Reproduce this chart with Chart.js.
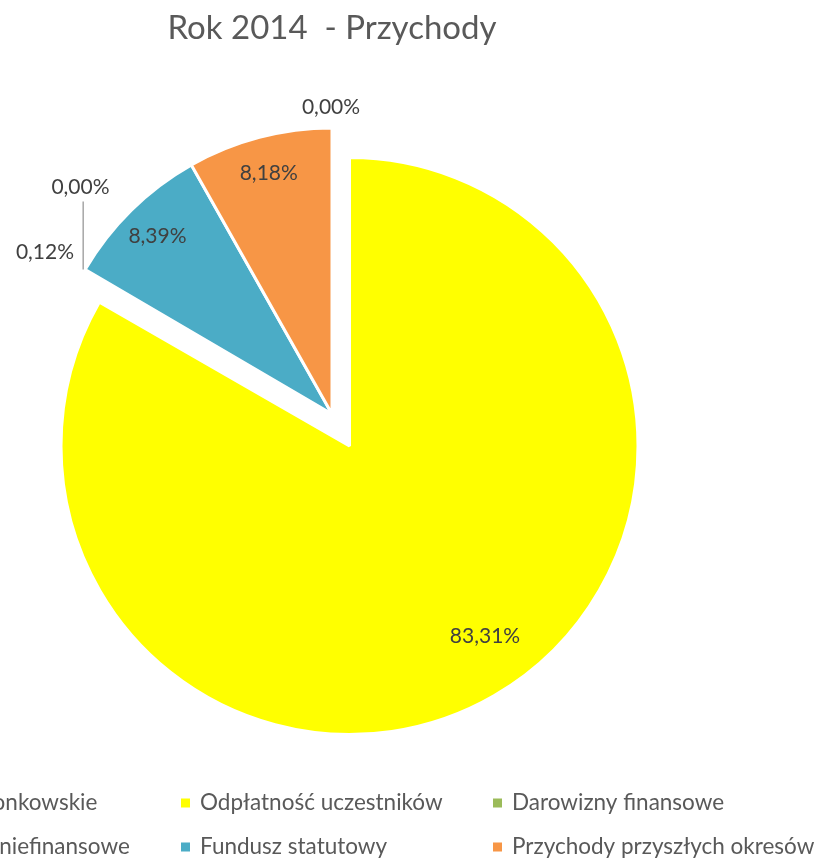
<!DOCTYPE html>
<html>
<head>
<meta charset="utf-8">
<script src="https://cdn.jsdelivr.net/npm/chart.js@4.4.0/dist/chart.umd.min.js"></script>
<style>
  html, body { margin: 0; padding: 0; background: #ffffff; }
  #wrap { position: relative; width: 818px; height: 860px; overflow: hidden; }
  #wrap canvas { position: absolute; left: 0; top: 0; }
</style>
</head>
<body>
<div id="wrap">
  <canvas id="pieBack" width="818" height="860"></canvas>
  <canvas id="pieFront" width="818" height="860"></canvas>
</div>
<script>
// ---------- data ----------
const chartTitle = 'Rok 2014  - Przychody';
const categories = [
  'Składki członkowskie',
  'Odpłatność uczestników',
  'Darowizny finansowe',
  'Darowizny niefinansowe',
  'Fundusz statutowy',
  'Przychody przyszłych okresów'
];
const shares = [0.00, 83.31, 0.12, 0.00, 8.39, 8.18];   // % of total
const sliceColors = ['#4F81BD', '#FFFF00', '#9BBB59', '#8064A2', '#4BACC6', '#F79646'];
const explodedSlices = [1];  // slice drawn pulled away from the rest

// ---------- styles ----------
const FONT_FAMILY = 'Lato, "Open Sans", sans-serif';
const LABEL_COLOR = '#404040';
const TEXT_COLOR = '#595959';
const NONE = 'rgba(0,0,0,0)';

const fmt = v => v.toFixed(2).replace('.', ',') + '%';

function makeLabelPlugin(cfg) {
  return {
    id: 'pctLabels',
    afterDatasetsDraw(chart) {
      const ctx = chart.ctx;
      const meta = chart.getDatasetMeta(0);
      ctx.save();
      ctx.font = cfg.font;
      ctx.fillStyle = LABEL_COLOR;
      ctx.textBaseline = 'middle';
      meta.data.forEach((arc, i) => {
        if (!cfg.indices.includes(i)) return;
        const p = arc.getProps(['x', 'y', 'startAngle', 'endAngle', 'outerRadius'], true);
        const mid = (p.startAngle + p.endAngle) / 2;
        const out = cfg.outside[i];
        if (out) {
          const px = p.x + Math.cos(mid) * p.outerRadius;
          const py = p.y + Math.sin(mid) * p.outerRadius;
          if (out.leader) {
            ctx.save();
            ctx.strokeStyle = '#A6A6A6';
            ctx.lineWidth = 1.5;
            ctx.beginPath();
            ctx.moveTo(px + out.leader.dx, py + out.leader.dy1);
            ctx.lineTo(px + out.leader.dx, py + out.leader.dy2);
            ctx.stroke();
            ctx.restore();
          }
          ctx.textAlign = out.align || 'center';
          ctx.fillText(fmt(shares[i]), px + out.dx, py + out.dy);
        } else {
          const a = mid + (cfg.shiftDeg || 0) * Math.PI / 180;
          const r = p.outerRadius * cfg.k;
          ctx.textAlign = 'center';
          ctx.fillText(fmt(shares[i]), p.x + Math.cos(a) * r, p.y + Math.sin(a) * r);
        }
      });
      ctx.restore();
    }
  };
}

const legendPlugin = {
  id: 'gridLegend',
  afterDraw(chart) {
    const ctx = chart.ctx;
    const L = { x0: -131, dx: 312, y0: 803, dy: 44, box: 9, gap: 19 };
    ctx.save();
    ctx.font = '22.5px ' + FONT_FAMILY;
    ctx.textBaseline = 'middle';
    ctx.textAlign = 'left';
    categories.forEach((c, i) => {
      const x = L.x0 + (i % 3) * L.dx;
      const y = L.y0 + Math.floor(i / 3) * L.dy;
      ctx.fillStyle = sliceColors[i];
      ctx.fillRect(x, y - L.box / 2, L.box, L.box);
      ctx.fillStyle = TEXT_COLOR;
      ctx.fillText(c, x + L.gap, y);
    });
    ctx.restore();
  }
};

const common = {
  responsive: false,
  animation: false,
  events: [],
  plugins: { legend: { display: false }, tooltip: { enabled: false } }
};

// Back chart: the exploded slice
new Chart(document.getElementById('pieBack'), {
  type: 'pie',
  data: {
    labels: categories,
    datasets: [{
      data: shares,
      radius: 288.5,
      backgroundColor: sliceColors.map((c, i) => explodedSlices.includes(i) ? c : NONE),
      borderColor: '#ffffff',
      borderWidth: shares.map((v, i) => explodedSlices.includes(i) ? 3 : 0)
    }]
  },
  options: Object.assign({}, common, {
    layout: { padding: { left: 0, right: 119, top: 32, bottom: 0 } },
    plugins: Object.assign({}, common.plugins, { title: { display: false } })
  }),
  plugins: [makeLabelPlugin({
    font: '21px ' + FONT_FAMILY, indices: explodedSlices, k: 0.81, shiftDeg: -5.4, outside: {}
  })]
});

// Front chart: the remaining slices, title and legend
new Chart(document.getElementById('pieFront'), {
  type: 'pie',
  data: {
    labels: categories,
    datasets: [{
      data: shares,
      radius: 286,
      backgroundColor: sliceColors.map((c, i) => explodedSlices.includes(i) ? NONE : c),
      borderColor: '#ffffff',
      borderWidth: shares.map((v, i) => explodedSlices.includes(i) ? 0 : 3)
    }]
  },
  options: Object.assign({}, common, {
    layout: { padding: { left: 0, right: 154, top: 0, bottom: 87.6 } },
    plugins: Object.assign({}, common.plugins, {
      title: {
        display: true,
        text: chartTitle,
        color: TEXT_COLOR,
        font: { family: FONT_FAMILY, size: 33, weight: 'normal', lineHeight: 1.2 },
        padding: { top: 9, bottom: 7 }
      }
    })
  }),
  plugins: [makeLabelPlugin({
    font: '21px ' + FONT_FAMILY,
    indices: [0, 2, 3, 4, 5],
    k: 0.87,
    shiftDeg: 0,
    outside: {
      0: { dx: -1, dy: -21 },
      2: { dx: -10.6, dy: -18, align: 'right' },
      3: { dx: -4.7, dy: -82.7, leader: { dx: -2, dy1: 0, dy2: -68 } }
    }
  }), legendPlugin]
});
</script>
</body>
</html>
